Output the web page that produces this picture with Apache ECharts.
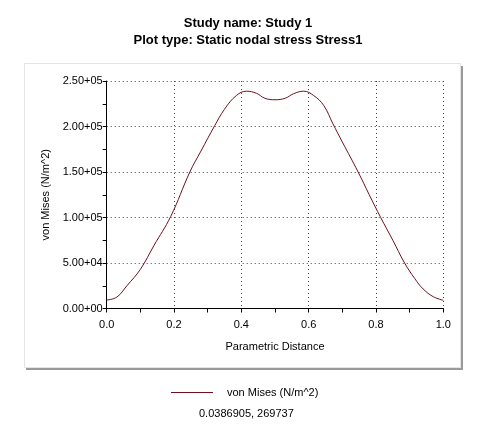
<!DOCTYPE html>
<html>
<head>
<meta charset="utf-8">
<script src="https://cdn.jsdelivr.net/npm/echarts@6/dist/echarts.min.js"></script>
<style>
  html, body { margin: 0; padding: 0; background: #fff; }
  #chart { width: 488px; height: 442px; }
</style>
</head>
<body>
<div id="chart"></div>
<script>
// parametric distance along the path
var distance = [0, 0.03, 0.06, 0.1, 0.14, 0.19, 0.247, 0.28, 0.321, 0.35, 0.385, 0.415, 0.445, 0.47, 0.5,
  0.53, 0.555, 0.585, 0.615, 0.645, 0.672, 0.7, 0.747, 0.78, 0.814, 0.85, 0.885, 0.915, 0.94, 0.97, 1.0];
// von Mises stress (N/m^2)
var vonMises = [9300, 12500, 25000, 43000, 69000, 101000, 150000, 173000, 201000, 219000, 234000, 238800, 236500, 231000, 229400,
  231000, 236000, 238800, 234000, 223000, 203000, 183000, 150000, 125000, 100000, 75000, 50000, 33000, 21500, 13000, 9000];
var yTicks = ['0.00+00', '5.00+04', '1.00+05', '1.50+05', '2.00+05', '2.50+05'];
var xTicks = ['0.0', '0.2', '0.4', '0.6', '0.8', '1.0'];
var probeText = '0.0386905, 269737';

var font = "'Liberation Sans', Arial, sans-serif";
var pts = distance.map(function (d, i) { return [d, vonMises[i]]; });

var chart = echarts.init(document.getElementById('chart'));
chart.setOption({
  animation: false,
  textStyle: { fontFamily: font },
  title: {
    text: 'Study name: Study 1\nPlot type: Static nodal stress Stress1',
    left: 243, textAlign: 'center', top: 10,
    textStyle: { fontSize: 13, fontWeight: 'bold', color: '#000', lineHeight: 17, fontFamily: font }
  },
  legend: {
    left: 166, top: 382,
    itemWidth: 42, itemHeight: 1, icon: 'rect',
    textStyle: { fontSize: 11, color: '#000', padding: [0, 0, 0, 9] },
    data: ['von Mises (N/m^2)']
  },
  grid: { left: 106.7, right: 44.7, top: 81, bottom: 133.5 },
  xAxis: {
    type: 'value', min: 0, max: 1, interval: 0.2,
    name: 'Parametric Distance', nameLocation: 'middle', nameGap: 33,
    nameTextStyle: { fontSize: 11, color: '#000' },
    axisLine: { lineStyle: { color: '#000', width: 1 } },
    axisTick: { show: true, length: 4, lineStyle: { color: '#000' } },
    minorTick: { show: true, splitNumber: 2, length: 4, lineStyle: { color: '#000' } },
    axisLabel: { fontSize: 11, color: '#000', margin: 11, formatter: function (v) { return xTicks[Math.round(v / 0.2)]; } },
    splitLine: { show: true, lineStyle: { color: '#444', type: [1, 3], width: 1 } }
  },
  yAxis: {
    type: 'value', min: 0, max: 250000, interval: 50000,
    name: 'von Mises (N/m^2)', nameLocation: 'middle', nameGap: 52, nameRotate: 90,
    nameTextStyle: { fontSize: 11, color: '#000' },
    axisLine: { show: true, lineStyle: { color: '#000', width: 1 } },
    axisTick: { show: true, length: 4, lineStyle: { color: '#000' } },
    minorTick: { show: true, splitNumber: 2, length: 4, lineStyle: { color: '#000' } },
    axisLabel: { fontSize: 11, color: '#000', margin: 4, formatter: function (v) { return yTicks[Math.round(v / 50000)]; } },
    splitLine: { show: true, lineStyle: { color: '#444', type: [1, 3], width: 1 } }
  },
  series: [{
    name: 'von Mises (N/m^2)',
    type: 'line',
    data: pts,
    smooth: 0.4,
    showSymbol: false,
    itemStyle: { color: '#6e1020' },
    lineStyle: { color: '#6e1020', width: 1 }
  }],
  graphic: [
    { type: 'rect', shape: { x: 24.5, y: 63.5, width: 436, height: 304 }, style: { fill: 'none', stroke: '#e4e4e4', lineWidth: 1 }, z: -10 },
    { type: 'rect', shape: { x: 461, y: 66, width: 2, height: 304 }, style: { fill: '#9a9a9a' }, z: -10 },
    { type: 'rect', shape: { x: 26, y: 368, width: 437, height: 2 }, style: { fill: '#9a9a9a' }, z: -10 },
    { type: 'text', left: 199, top: 408, style: { text: probeText, fontSize: 11, fill: '#000', fontFamily: font } }
  ]
});
</script>
</body>
</html>
